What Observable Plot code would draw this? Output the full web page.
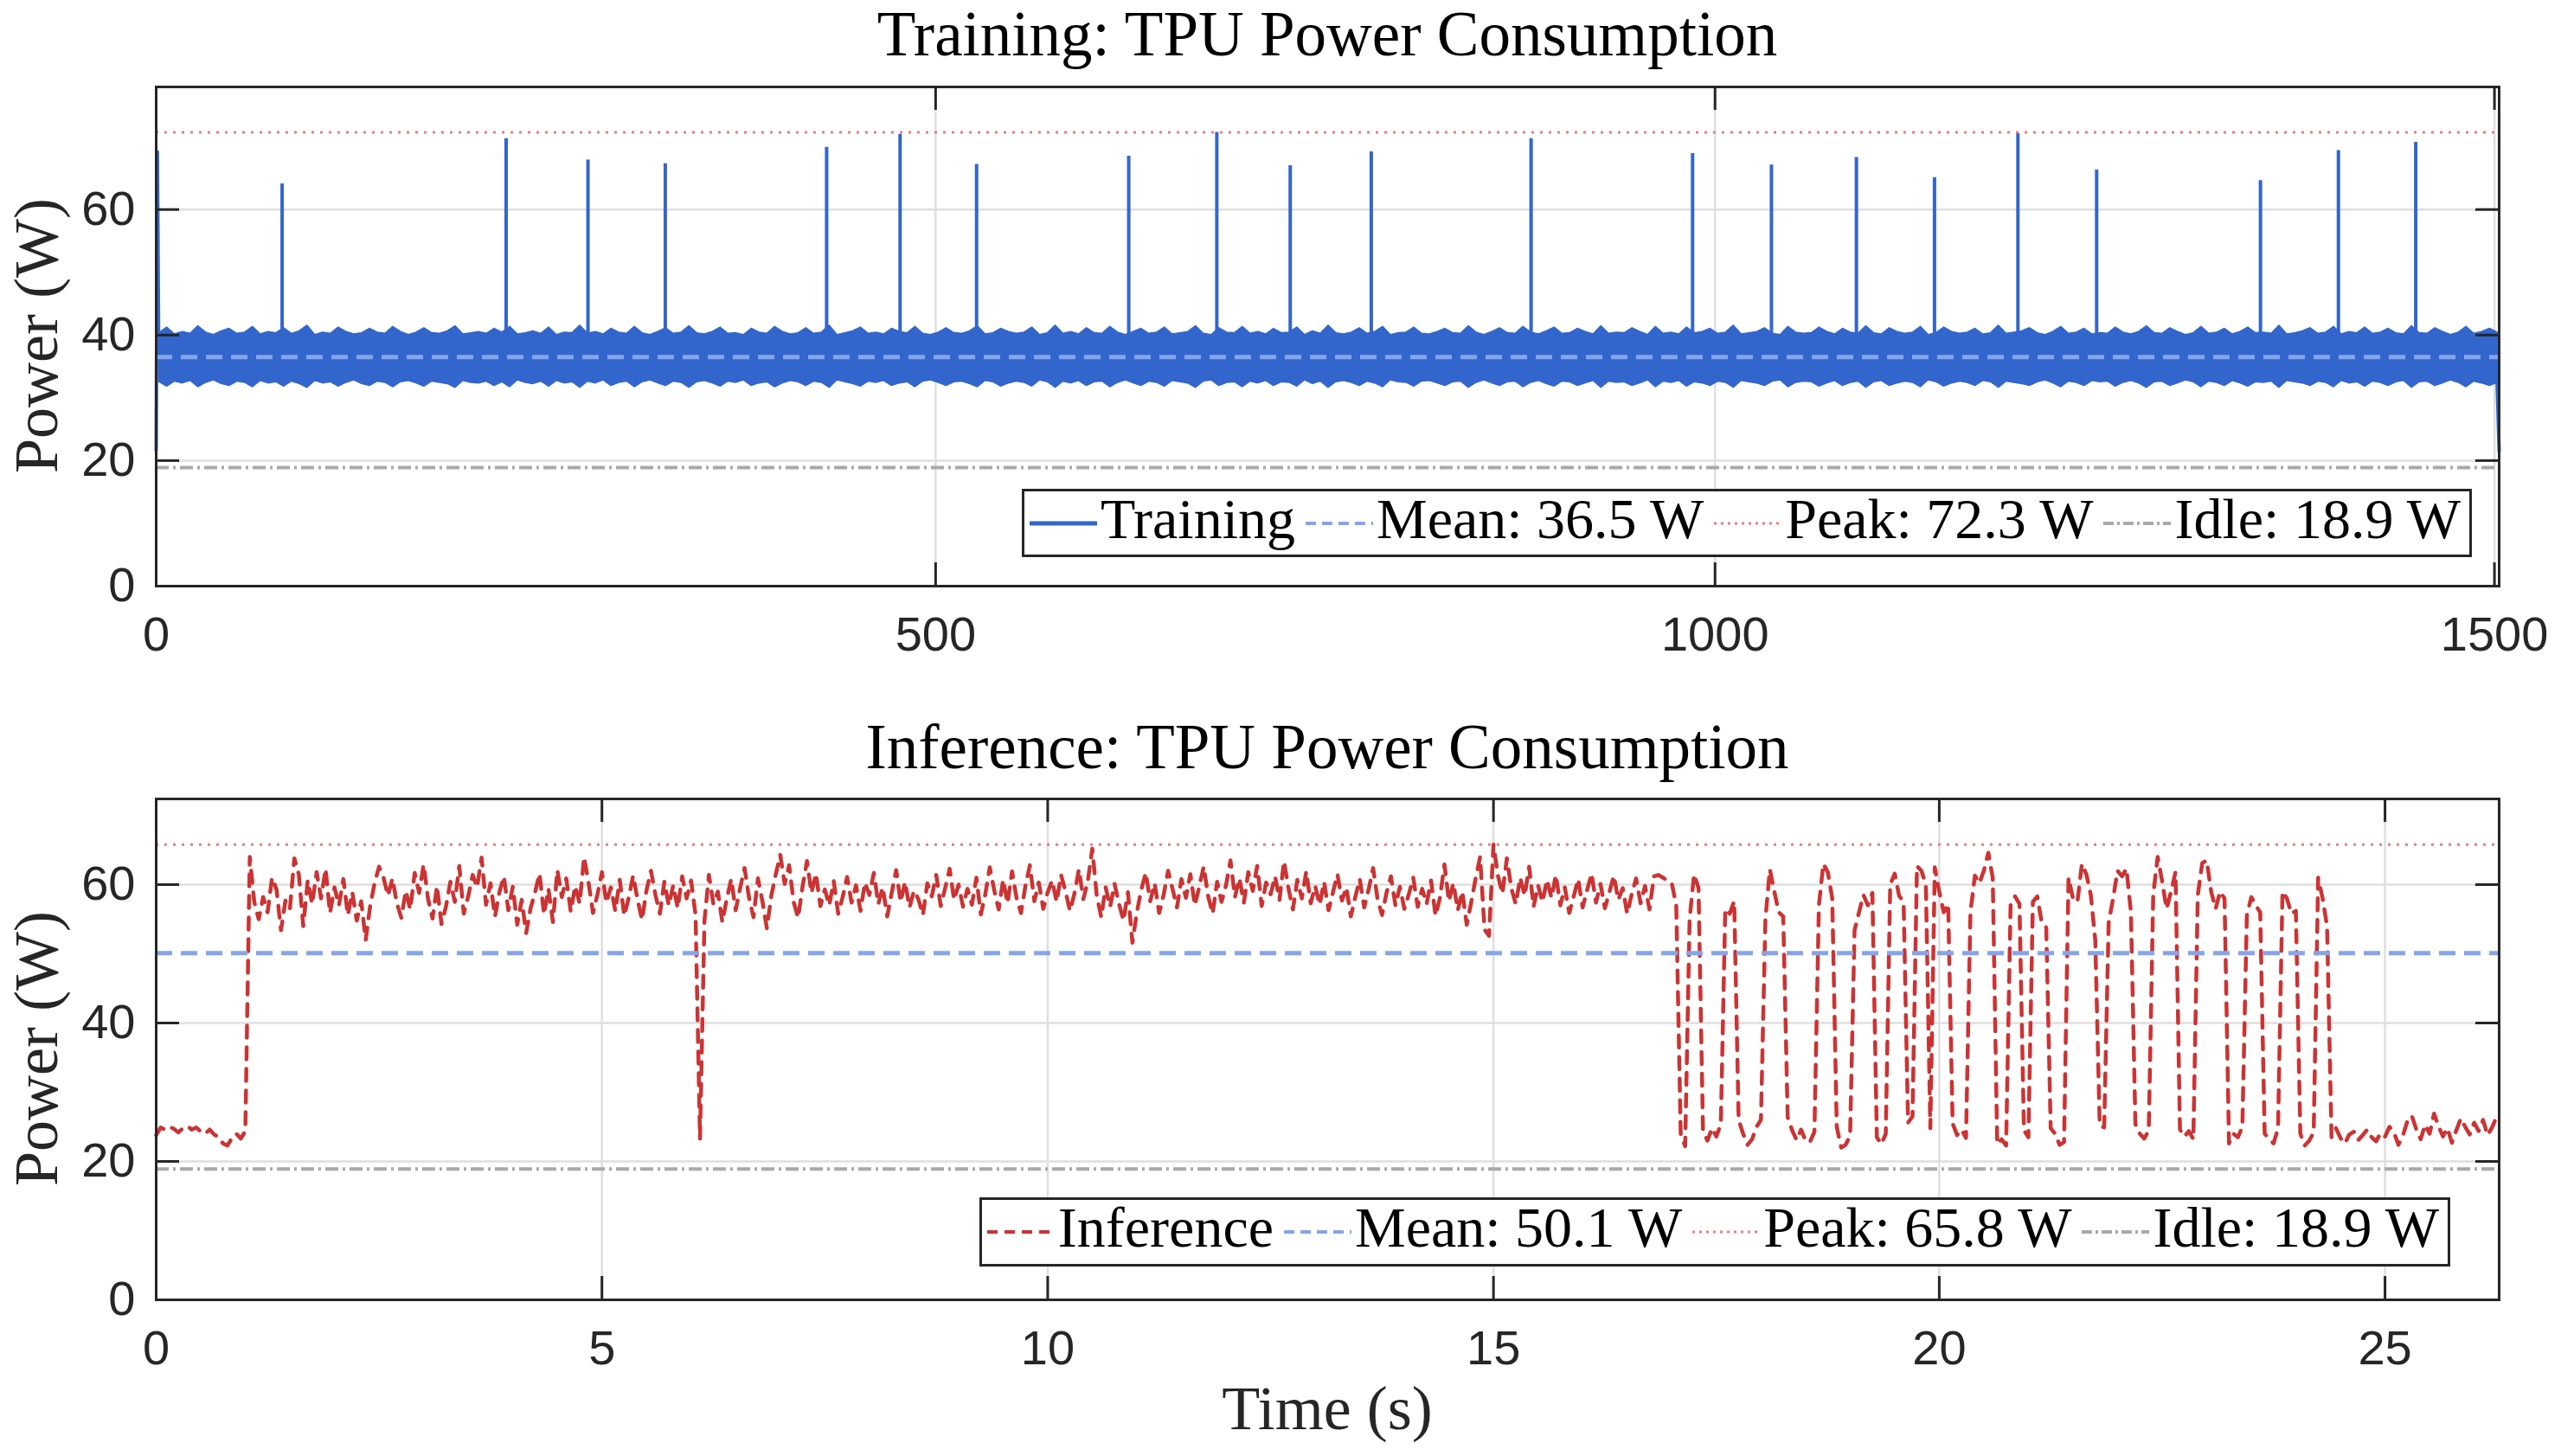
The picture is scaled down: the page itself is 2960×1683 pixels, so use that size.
<!DOCTYPE html>
<html><head><meta charset="utf-8">
<script src="https://cdn.jsdelivr.net/npm/d3@7"></script>
<script src="https://cdn.jsdelivr.net/npm/@observablehq/plot@0.6"></script>
<style>
html,body{margin:0;padding:0;background:#fff;}
#page{position:relative;width:2960px;height:1683px;overflow:hidden;background:#fff;}
.chart{position:absolute;left:0;}
.ttl{position:absolute;left:180px;width:2708px;text-align:center;font-family:"Liberation Serif","Times New Roman",serif;font-size:73px;line-height:1;color:#000;white-space:nowrap;}
.xlab{position:absolute;left:180px;width:2708px;text-align:center;font-family:"Liberation Serif","Times New Roman",serif;font-size:72px;line-height:1;color:#262626;white-space:nowrap;}
.ylab{position:absolute;font-family:"Liberation Serif","Times New Roman",serif;font-size:72px;line-height:1;color:#262626;white-space:nowrap;transform:translate(-50%,-50%) rotate(-90deg);}
.legend{position:absolute;box-sizing:border-box;border:3px solid #262626;background:#fff;display:flex;align-items:center;padding:0 10px 0 6px;font-family:"Liberation Serif","Times New Roman",serif;font-size:66px;line-height:1;color:#000;white-space:nowrap;}
.legend .item{display:flex;align-items:center;margin-right:12px;}
.legend .item:last-child{margin-right:0;}
.legend svg{display:block;margin-right:4px;}
.legend span{position:relative;top:-5px;}
</style>
</head>
<body>
<div id="page"></div>
<script>
// ---------------- Data ----------------
// Training: noisy band envelope (sampled every 5 s starting at 2 s)
const trainEnvStart = 2;
const trainEnvStep = 5;
const trainEnvUpper = [
40.3,41.2,40.1,40.5,40.2,41.4,40.4,40.0,40.6,41.0,
40.2,40.4,41.3,40.1,40.5,40.3,41.1,40.2,40.6,41.5,
40.0,40.4,40.2,41.2,40.5,40.1,40.3,41.0,40.4,40.2,
41.3,40.5,40.0,40.4,41.1,40.3,40.2,40.6,41.4,40.1,
40.3,40.5,40.2,41.0,40.4,41.3,40.1,40.3,40.6,40.2,
41.2,40.0,40.4,40.3,41.5,40.2,40.5,40.1,41.0,40.4,
40.2,41.3,40.3,40.0,40.5,41.1,40.2,40.4,41.4,40.3,
40.1,40.5,41.2,40.2,40.3,40.0,41.0,40.4,40.2,41.3,
40.5,40.1,40.3,41.1,40.2,40.4,41.5,40.0,40.3,40.6,
41.2,40.2,40.4,40.1,41.0,40.5,40.3,41.3,40.2,40.0,
40.4,41.1,40.3,40.2,40.6,41.4,40.1,40.3,41.0,40.5,
40.2,40.4,41.2,40.0,40.3,41.5,40.2,40.5,40.1,41.1,
40.3,40.2,41.3,40.4,40.0,40.5,41.0,40.2,40.4,41.2,
40.1,40.3,40.5,41.4,40.2,40.0,41.1,40.4,40.3,41.3,
40.2,40.5,40.1,41.0,40.3,40.4,41.2,40.0,40.6,40.2,
41.5,40.3,40.1,40.4,41.1,40.2,40.5,41.3,40.0,40.3,
40.4,41.2,40.2,40.1,40.5,41.0,40.3,40.2,41.4,40.4,
40.0,40.5,41.1,40.3,40.2,41.3,40.4,40.1,40.6,41.2,
40.2,40.3,41.0,40.5,40.1,41.4,40.2,40.4,40.3,41.1,
40.5,40.0,41.3,40.2,40.4,40.1,41.2,40.3,40.5,41.0,
40.2,40.4,41.5,40.1,40.3,40.5,41.1,40.2,40.0,41.3,
40.4,40.2,40.3,41.2,40.5,40.1,41.0,40.4,40.2,41.4,
40.3,40.1,41.1,40.5,40.2,40.4,41.3,40.0,40.3,41.2,
40.5,40.2,40.4,41.0,40.1,40.3,41.5,40.2,40.4,40.6,
41.1,40.3,40.0,40.5,41.3,40.2,40.4,41.0,40.1,40.3,
40.2,41.2,40.4,40.1,40.5,41.4,40.3,40.2,41.1,40.5,
40.0,40.3,41.3,40.2,40.4,41.0,40.1,40.5,41.2,40.3,
40.4,40.2,41.5,40.1,40.3,40.6,41.1,40.2,40.4,41.3,
40.1,40.5,40.3,41.2,40.2,40.4,41.0,40.3,40.1,41.4,
40.3,40.2,41.1,40.5,40.0,40.4,41.3,40.2,40.5,41.0,
40.4];
const trainEnvLower = [
32.5,31.8,32.6,32.3,32.7,31.7,32.4,32.8,32.2,31.9,
32.6,32.4,31.7,32.7,32.3,32.5,31.8,32.6,32.2,31.6,
32.7,32.3,32.5,31.8,32.4,32.8,32.2,31.9,32.6,32.4,
31.7,32.5,32.7,32.3,31.8,32.6,32.4,32.2,31.6,32.7,
32.4,32.3,32.6,31.9,32.5,31.7,32.8,32.4,32.2,32.6,
31.8,32.7,32.3,32.5,31.6,32.6,32.3,32.8,31.9,32.4,
32.6,31.7,32.5,32.8,32.3,31.9,32.6,32.4,31.6,32.5,
32.7,32.3,31.8,32.6,32.4,32.8,31.9,32.3,32.5,31.7,
32.3,32.7,32.5,31.9,32.6,32.4,31.6,32.8,32.5,32.2,
31.8,32.6,32.4,32.7,31.9,32.3,32.5,31.7,32.6,32.8,
32.4,31.9,32.5,32.6,32.2,31.7,32.7,32.5,31.8,32.3,
32.6,32.4,31.8,32.8,32.5,31.6,32.6,32.3,32.7,31.9,
32.5,32.6,31.7,32.4,32.8,32.3,31.9,32.6,32.4,31.8,
32.7,32.5,32.3,31.6,32.6,32.8,31.9,32.4,32.5,31.7,
32.6,32.3,32.7,31.9,32.5,32.4,31.8,32.8,32.2,32.6,
31.6,32.5,32.7,32.4,31.9,32.6,32.3,31.7,32.8,32.5,
32.4,31.8,32.6,32.7,32.3,31.9,32.5,32.6,31.6,32.4,
32.8,32.3,31.9,32.5,32.6,31.7,32.4,32.7,32.2,31.8,
32.6,32.5,31.9,32.3,32.7,31.6,32.6,32.4,32.5,31.9,
32.3,32.8,31.7,32.6,32.4,32.7,31.8,32.5,32.3,31.9,
32.6,32.4,31.6,32.7,32.5,32.3,31.9,32.6,32.8,31.7,
32.4,32.6,32.5,31.8,32.3,32.7,31.9,32.4,32.6,31.6,
32.5,32.7,31.9,32.3,32.6,32.4,31.7,32.8,32.5,31.8,
32.3,32.6,32.4,31.9,32.7,32.5,31.6,32.6,32.4,32.2,
31.9,32.5,32.8,32.3,31.7,32.6,32.4,31.9,32.7,32.5,
32.6,31.8,32.4,32.7,32.3,31.6,32.5,32.6,31.9,32.3,
32.8,32.5,31.7,32.6,32.4,31.9,32.7,32.3,31.8,32.5,
32.4,32.6,31.6,32.7,32.5,32.3,31.9,32.6,32.4,31.7,
32.7,32.3,32.5,31.8,32.6,32.4,31.9,32.5,32.7,31.6,
32.5,32.6,31.9,32.3,32.8,32.4,31.7,32.6,32.3,31.9,
32.4];
// Training spikes
const trainSpikeTime  = [80.8,224.5,277.0,326.6,430.1,477.2,526.3,623.9,680.4,727.5,779.5,882.0,985.6,1036.2,1090.7,1140.8,1194.3,1244.8,1349.9,1399.9,1449.5];
const trainSpikePower = [64.1,71.3,67.9,67.3,69.9,72.0,67.2,68.5,72.3,67.0,69.2,71.3,68.9,67.1,68.3,65.1,72.1,66.3,64.6,69.4,70.7];
// Training start / end transients
const trainStartTime  = [0, 0.8, 1.6, 2.2];
const trainStartPower = [21.6, 69.2, 38.0, 36.0];
const trainEndTime    = [1501.2, 1502.0, 1503.0];
const trainEndPower   = [37.0, 30.0, 21.5];
const trainStats = {mean: 36.5, peak: 72.3, idle: 18.9};
const trainXTicks = [0, 500, 1000, 1500];

// Inference: sampled every 0.05 s
const infStep = 0.05;
const infPower = [
// 0.00 - 1.00 s
23.8,24.9,24.6,25.0,24.7,24.2,24.8,25.1,24.6,24.9,24.3,24.0,24.6,23.9,23.5,22.6,22.3,23.4,24.0,23.3,24.4,
// 1.05 - 2.00
64.0,57.5,55.0,58.2,56.0,61.0,59.3,53.4,57.7,56.5,63.8,61.5,54.0,60.6,57.2,61.8,58.0,62.3,55.9,59.6,
// 2.05 - 3.00
57.0,60.8,55.6,58.9,54.8,57.6,52.0,56.9,60.2,62.6,61.0,58.4,60.9,57.3,55.2,59.1,56.4,61.7,58.8,62.9,
// 3.05 - 4.00
57.9,55.1,59.8,54.3,56.8,60.4,57.5,62.7,55.8,58.3,61.4,59.6,63.9,57.1,60.2,55.4,58.9,61.2,56.3,59.7,
// 4.05 - 5.00
54.2,57.8,53.0,56.6,58.9,61.6,55.7,59.4,54.6,62.1,58.2,60.9,56.1,59.8,57.3,64.0,60.3,55.9,58.6,61.8,
// 5.05 - 6.00
57.4,59.6,56.2,60.7,55.5,58.1,61.3,57.8,54.9,59.2,62.0,58.5,55.8,60.4,57.0,59.9,56.6,61.2,58.0,60.6,
// 6.05 - 7.00
55.6,23.3,54.8,61.4,57.2,59.0,54.6,57.9,60.8,56.3,59.5,62.4,58.1,55.3,60.9,57.6,53.7,58.4,61.5,64.3,
// 7.05 - 8.00
60.1,62.8,57.5,55.2,59.7,63.4,58.8,61.6,56.9,59.3,57.0,60.5,55.8,58.2,61.1,57.4,59.9,56.2,60.3,58.5,
// 8.05 - 9.00
61.7,57.2,59.6,55.4,58.8,62.1,57.5,60.4,56.7,59.1,57.9,55.6,60.2,58.3,61.4,56.9,59.5,62.3,57.8,60.0,
// 9.05 - 10.00
56.8,59.4,57.1,61.0,55.7,58.6,62.5,59.2,56.4,60.7,57.3,61.9,58.1,55.9,59.8,62.8,57.6,60.3,56.5,58.9,
// 10.05 - 11.00
60.6,57.5,61.4,59.0,56.2,58.7,62.2,57.9,60.5,65.2,58.4,55.3,59.6,56.8,60.1,57.2,54.8,58.9,51.6,56.0,
// 11.05 - 12.00
59.3,61.7,57.6,60.2,55.9,58.5,62.0,59.4,56.7,60.8,58.1,61.5,57.0,59.7,62.6,58.3,55.8,60.4,57.5,59.9,
// 12.05 - 13.00
63.5,58.2,60.9,57.4,61.8,59.1,62.7,56.9,60.3,58.6,61.2,57.8,63.4,59.5,56.4,60.7,58.0,61.9,57.3,59.8,
// 13.05 - 14.00
57.1,60.4,56.3,58.9,61.5,57.7,59.6,55.4,58.2,60.8,56.7,59.3,62.4,57.9,55.6,58.8,61.2,57.0,59.7,56.5,
// 14.05 - 15.00
58.6,61.0,56.8,59.4,57.2,60.6,55.5,58.1,62.9,57.6,60.2,56.3,59.0,54.2,57.4,60.9,64.0,53.5,52.6,65.8,
// 15.05 - 16.00
61.3,58.7,63.8,59.5,57.2,61.0,58.4,62.6,56.8,59.9,57.5,60.7,58.1,61.4,57.0,59.6,55.9,58.3,60.8,56.7,
// 16.05 - 17.00
59.2,61.6,57.4,60.1,56.6,58.9,61.3,57.8,59.5,55.8,58.6,60.9,57.3,59.8,56.4,61.2,61.4,61.0,60.6,60.2,
// 17.05 - 24.40 switching phase
57.0,24.0,22.2,55.0,61.5,59.5,24.5,23.0,24.8,23.6,
25.4,56.5,55.8,57.6,26.0,24.0,22.4,23.2,25.0,26.0,
55.0,62.2,59.0,56.0,55.4,26.4,24.5,23.1,24.6,23.0,
22.8,24.3,57.0,63.0,61.8,58.0,25.0,22.0,22.4,23.7,
53.4,56.0,58.5,57.0,58.8,23.5,22.5,24.0,60.0,61.6,
58.4,57.5,25.6,26.5,62.7,62.0,60.0,24.8,62.5,59.0,
56.0,57.2,25.5,23.8,24.6,23.4,56.0,61.3,60.2,62.0,
64.6,61.0,22.5,23.2,22.3,57.0,58.3,57.2,24.5,23.5,
57.5,58.3,54.5,53.8,24.8,24.0,22.4,22.8,61.0,58.0,
57.5,63.0,61.5,58.5,52.0,25.2,24.9,54.5,58.0,62.0,
61.2,62.3,56.0,25.4,24.0,23.3,24.5,58.5,64.0,60.5,
56.5,59.0,61.8,24.6,23.6,24.4,23.2,58.5,63.1,63.5,
59.0,56.5,59.0,58.0,22.6,24.0,23.5,25.0,55.5,58.2,
57.0,56.0,24.0,23.3,22.6,24.8,59.0,58.0,55.8,56.2,
24.0,22.3,23.0,24.2,61.0,58.0,54.0,23.5,
// 24.45 - 26.25 tail
24.8,23.4,22.6,23.9,24.3,23.1,23.8,24.6,23.5,22.9,24.1,23.6,25.0,24.2,22.4,23.7,25.8,26.6,24.7,23.2,
25.3,24.0,26.9,25.1,23.6,24.8,22.7,24.5,26.2,25.0,23.9,25.6,24.4,26.0,23.8,24.9,26.4];
const infStats = {mean: 50.1, peak: 65.8, idle: 18.9};
const infXTicks = [0, 5, 10, 15, 20, 25];
const yTicks = [0, 20, 40, 60];

// ---------------- Styles ----------------
const BLUE = "#3366cc", RED = "#cc3333";
const MEAN_C = "#85a5ea", PEAK_C = "#f07c7c", IDLE_C = "#a9a9a9";
const AX = "#262626", GRID = "#dfdfdf";
const DASH_MEAN = "19,10", DASH_PEAK = "3,7", DASH_IDLE = "15,5,3,5", DASH_INF = "14,11";

const page = document.getElementById("page");
const W = 2960, ML = 180, MR = 72, TICK = 27;

function frameMarks(xTicks, innerW, innerH) {
  return [
    Plot.ruleX(xTicks, {insetTop: innerH - TICK, stroke: AX, strokeWidth: 3}),
    Plot.ruleX(xTicks, {insetBottom: innerH - TICK, stroke: AX, strokeWidth: 3}),
    Plot.ruleY(yTicks, {insetRight: innerW - TICK, stroke: AX, strokeWidth: 3}),
    Plot.ruleY(yTicks, {insetLeft: innerW - TICK, stroke: AX, strokeWidth: 3}),
    Plot.frame({stroke: AX, strokeWidth: 3}),
    Plot.axisX(xTicks, {tickSize: 0, tickPadding: 35, label: null, tickFormat: d => String(d), fill: AX}),
    Plot.axisY(yTicks, {tickSize: 0, tickPadding: 24, label: null, tickFormat: d => String(d), fill: AX})
  ];
}
function statRules(st) {
  return [
    Plot.ruleY([st.mean], {stroke: MEAN_C, strokeWidth: 5, strokeDasharray: DASH_MEAN}),
    Plot.ruleY([st.peak], {stroke: PEAK_C, strokeWidth: 3, strokeDasharray: DASH_PEAK}),
    Plot.ruleY([st.idle], {stroke: IDLE_C, strokeWidth: 4, strokeDasharray: DASH_IDLE})
  ];
}

// ---- Training chart ----
const env = trainEnvUpper.map((u, i) => ({t: trainEnvStart + i * trainEnvStep, hi: u, lo: trainEnvLower[i]}));
const spikes = trainSpikeTime.map((t, i) => ({t, p: trainSpikePower[i]}));
const trans = [
  ...trainStartTime.map((t, i) => ({t, p: trainStartPower[i], s: "a"})),
  ...trainEndTime.map((t, i) => ({t, p: trainEndPower[i], s: "b"}))
];
const H1 = 780, MT1 = 100, MB1 = 103;
const inner1W = W - ML - MR, inner1H = H1 - MT1 - MB1;
const chart1 = Plot.plot({
  width: W, height: H1, marginTop: MT1, marginBottom: MB1, marginLeft: ML, marginRight: MR,
  x: {domain: [0, 1503]}, y: {domain: [0, trainStats.peak * 1.1]},
  style: {fontFamily: "'Liberation Sans', Arial, sans-serif", fontSize: "56px", color: AX, background: "white", overflow: "visible"},
  marks: [
    Plot.gridX(trainXTicks, {stroke: GRID, strokeOpacity: 1, strokeWidth: 2.5}),
    Plot.gridY(yTicks, {stroke: GRID, strokeOpacity: 1, strokeWidth: 2.5}),
    Plot.areaY(env, {x: "t", y1: "lo", y2: "hi", fill: BLUE, stroke: BLUE, strokeWidth: 1.5}),
    Plot.ruleX(spikes, {x: "t", y1: 38, y2: "p", stroke: BLUE, strokeWidth: 4}),
    Plot.line(trans, {x: "t", y: "p", z: "s", stroke: BLUE, strokeWidth: 4}),
    ...statRules(trainStats),
    ...frameMarks(trainXTicks, inner1W, inner1H)
  ]
});
chart1.classList.add("chart");
chart1.style.top = "0px";
page.appendChild(chart1);

// ---- Inference chart ----
const inf = infPower.map((p, i) => ({t: i * infStep, p}));
const TOP2 = 830, H2 = 780, MT2 = 93, MB2 = 108;
const inner2H = H2 - MT2 - MB2;
const chart2 = Plot.plot({
  width: W, height: H2, marginTop: MT2, marginBottom: MB2, marginLeft: ML, marginRight: MR,
  x: {domain: [0, 26.28]}, y: {domain: [0, infStats.peak * 1.1]},
  style: {fontFamily: "'Liberation Sans', Arial, sans-serif", fontSize: "56px", color: AX, background: "white", overflow: "visible"},
  marks: [
    Plot.gridX(infXTicks, {stroke: GRID, strokeOpacity: 1, strokeWidth: 2.5}),
    Plot.gridY(yTicks, {stroke: GRID, strokeOpacity: 1, strokeWidth: 2.5}),
    Plot.line(inf, {x: "t", y: "p", stroke: RED, strokeWidth: 4.5, strokeDasharray: DASH_INF, strokeLinejoin: "round"}),
    ...statRules(infStats),
    ...frameMarks(infXTicks, inner1W, inner2H)
  ]
});
chart2.classList.add("chart");
chart2.style.top = TOP2 + "px";
page.appendChild(chart2);

// ---- Titles & labels ----
function addDiv(cls, text, css) {
  const d = document.createElement("div");
  d.className = cls; d.textContent = text;
  Object.assign(d.style, css);
  page.appendChild(d);
  return d;
}
addDiv("ttl", "Training: TPU Power Consumption", {top: "3px"});
addDiv("ttl", "Inference: TPU Power Consumption", {top: "827px"});
addDiv("xlab", "Time (s)", {top: "1592px"});
addDiv("ylab", "Power (W)", {left: "42px", top: "388px"});
addDiv("ylab", "Power (W)", {left: "42px", top: "1212px"});

// ---- Legends ----
function swatch(color, width, dash) {
  const ns = "http://www.w3.org/2000/svg";
  const s = document.createElementNS(ns, "svg");
  s.setAttribute("width", 78); s.setAttribute("height", 20);
  const l = document.createElementNS(ns, "line");
  l.setAttribute("x1", 0); l.setAttribute("x2", 78); l.setAttribute("y1", 10); l.setAttribute("y2", 10);
  l.setAttribute("stroke", color); l.setAttribute("stroke-width", width);
  if (dash) l.setAttribute("stroke-dasharray", dash);
  s.appendChild(l);
  return s;
}
function legend(items, css) {
  const box = document.createElement("div");
  box.className = "legend";
  Object.assign(box.style, css);
  for (const it of items) {
    const d = document.createElement("div");
    d.className = "item";
    d.appendChild(swatch(it.color, it.width, it.dash));
    const sp = document.createElement("span");
    sp.textContent = it.label;
    d.appendChild(sp);
    box.appendChild(d);
  }
  page.appendChild(box);
}
function statItems(st) {
  return [
    {label: `Mean: ${st.mean.toFixed(1)} W`, color: MEAN_C, width: 4, dash: "12,7"},
    {label: `Peak: ${st.peak.toFixed(1)} W`, color: PEAK_C, width: 3, dash: "3,5"},
    {label: `Idle: ${st.idle.toFixed(1)} W`, color: IDLE_C, width: 4, dash: "12,4,3,4"}
  ];
}
legend([{label: "Training", color: BLUE, width: 5, dash: null}, ...statItems(trainStats)],
  {top: "565px", right: "103px", height: "79px"});
legend([{label: "Inference", color: RED, width: 4, dash: "12,8"}, ...statItems(infStats)],
  {top: "1384px", right: "128px", height: "80px"});
</script>
</body></html>
